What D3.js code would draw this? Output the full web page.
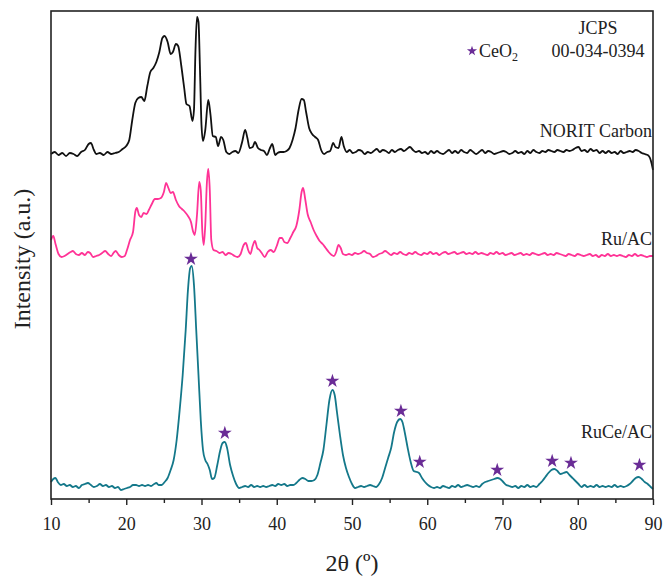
<!DOCTYPE html>
<html>
<head>
<meta charset="utf-8">
<script src="https://cdn.jsdelivr.net/npm/d3@7/dist/d3.min.js"></script>
<style>
    body { margin: 0; background: #fff; }
</style>
</head>
<body>
<svg width="663" height="576"></svg>
<script>
// 2theta (deg), intensity (a.u., curves already stacked)
var noritCarbon = [
    [10.0,346],[10.5,348],[11.0,345],[11.5,347],[12.0,344],[12.5,347],[13.0,346],[13.5,344],[14.0,348],[14.5,350],
    [15.0,356],[15.3,357],[15.7,350],[16.0,346],[16.5,347],[17.0,345],[17.5,348],[18.0,346],[18.5,347],[19.0,348],
    [19.5,351],[20.0,354],[20.4,360],[20.8,380],[21.2,397],[21.6,402],[22.0,403],[22.4,399],[22.8,414],[23.2,428],
    [23.6,432],[24.0,438],[24.4,448],[24.8,462],[25.1,464],[25.5,458],[25.9,446],[26.2,448],[26.6,456],[26.9,454],
    [27.3,435],[27.7,412],[28.0,396],[28.4,394],[28.8,379],[29.0,390],[29.2,450],[29.4,483],[29.6,478],[29.8,430],
    [30.0,375],[30.2,359],[30.5,370],[30.9,400],[31.2,385],[31.5,364],[31.9,363],[32.2,354],[32.6,363],[32.9,360],
    [33.3,348],[33.7,346],[34.1,348],[34.5,349],[34.9,347],[35.4,358],[35.8,370],[36.1,362],[36.4,352],[36.8,353],
    [37.1,358],[37.5,352],[37.9,350],[38.3,349],[38.7,345],[39.1,352],[39.4,356],[39.8,345],[40.1,347],[40.5,348],
    [40.9,348],[41.3,349],[41.7,352],[42.1,360],[42.5,372],[42.9,390],[43.3,401],[43.6,400],[43.9,388],[44.3,372],
    [44.7,366],[45.1,363],[45.5,360],[45.9,350],[46.3,346],[46.7,348],[47.1,349],[47.5,357],[47.8,353],[48.2,352],
    [48.6,363],[48.9,354],[49.3,348],[49.7,350],[50.1,347],[50.5,348],[50.9,350],[51.3,349],[51.7,346],[52.1,348],
    [52.5,347],[52.9,349],[53.3,351],[53.7,348],[54.1,350],[54.5,349],[54.9,347],[55.3,350],[55.7,348],[56.1,350],
    [56.5,351],[56.9,349],[57.3,351],[57.7,353],[58.1,350],[58.5,348],[58.9,349],[59.3,347],[59.7,348],[60.1,346],
    [60.5,349],[60.9,347],[61.3,349],[61.7,347],[62.1,346],[62.5,348],[62.9,350],[63.3,347],[63.7,349],[64.1,347],
    [64.5,350],[64.9,348],[65.3,347],[65.7,350],[66.1,348],[66.5,346],[66.9,348],[67.3,350],[67.7,347],[68.1,349],
    [68.5,348],[68.9,346],[69.3,347],[69.7,348],[70.1,349],[70.5,348],[70.9,346],[71.3,347],[71.7,349],[72.1,347],
    [72.5,348],[72.9,346],[73.3,349],[73.7,347],[74.1,350],[74.5,348],[74.9,347],[75.3,349],[75.7,348],[76.1,350],
    [76.5,349],[76.9,348],[77.3,350],[77.7,349],[78.1,348],[78.5,350],[78.9,349],[79.3,350],[79.7,352],[80.1,353],
    [80.5,349],[80.9,350],[81.3,348],[81.7,351],[82.1,349],[82.5,350],[82.9,347],[83.3,349],[83.7,347],[84.1,349],
    [84.5,347],[84.9,348],[85.3,346],[85.7,349],[86.1,347],[86.5,348],[86.9,349],[87.3,348],[87.7,350],[88.1,349],
    [88.5,347],[88.9,346],[89.3,345],[89.6,342],[89.8,337],[90.0,330]
];

var ruAC = [
    [10.0,260],[10.3,264],[10.6,256],[11.0,246],[11.4,243],[11.8,244],[12.2,246],[12.6,248],[12.9,249],[13.3,246],
    [13.7,245],[14.1,247],[14.5,245],[14.9,248],[15.2,247],[15.6,243],[16.0,244],[16.4,245],[16.8,247],[17.2,249],
    [17.6,246],[18.0,244],[18.3,247],[18.6,249],[19.0,245],[19.4,243],[19.8,244],[20.1,250],[20.5,260],[20.9,268],
    [21.2,288],[21.4,292],[21.7,285],[22.0,283],[22.3,287],[22.7,286],[23.0,290],[23.4,296],[23.8,301],[24.2,301],
    [24.6,302],[25.0,308],[25.3,317],[25.6,312],[25.9,307],[26.2,308],[26.6,300],[27.0,294],[27.4,291],[27.8,288],
    [28.2,284],[28.6,278],[28.9,268],[29.1,265],[29.4,285],[29.7,318],[29.9,310],[30.1,270],[30.3,255],[30.5,275],
    [30.7,315],[30.9,331],[31.1,310],[31.3,260],[31.6,250],[32.0,249],[32.4,247],[32.8,248],[33.2,245],[33.6,247],
    [34.0,246],[34.4,244],[34.8,243],[35.2,246],[35.6,255],[35.9,257],[36.2,250],[36.5,246],[36.8,254],[37.1,259],
    [37.4,252],[37.7,250],[38.0,247],[38.4,243],[38.8,248],[39.2,250],[39.6,248],[40.0,254],[40.4,262],[40.7,262],
    [41.0,258],[41.4,257],[41.8,262],[42.2,268],[42.6,274],[43.0,290],[43.3,308],[43.5,312],[43.8,300],[44.1,286],
    [44.5,278],[44.9,270],[45.3,264],[45.7,259],[46.1,256],[46.5,252],[46.9,248],[47.3,245],[47.6,244],[47.9,248],
    [48.2,255],[48.5,252],[48.8,246],[49.2,245],[49.6,246],[50.0,245],[50.4,247],[50.8,246],[51.2,247],[51.6,249],
    [52.0,247],[52.4,246],[52.8,243],[53.2,244],[53.6,246],[54.0,247],[54.4,249],[54.8,247],[55.2,245],[55.6,247],
    [56.0,246],[56.4,248],[56.8,246],[57.2,245],[57.6,247],[58.0,246],[58.4,248],[58.8,246],[59.2,245],[59.6,247],
    [60.0,246],[60.4,248],[60.8,246],[61.2,247],[61.6,245],[62.0,247],[62.4,248],[62.8,246],[63.2,247],[63.6,248],
    [64.0,246],[64.4,247],[64.8,248],[65.2,246],[65.6,247],[66.0,246],[66.4,248],[66.8,246],[67.2,247],[67.6,246],
    [68.0,245],[68.4,247],[68.8,246],[69.2,248],[69.6,246],[70.0,247],[70.4,245],[70.8,246],[71.2,247],[71.6,245],
    [72.0,246],[72.4,247],[72.8,245],[73.2,246],[73.6,245],[74.0,247],[74.4,246],[74.8,245],[75.2,246],[75.6,247],
    [76.0,245],[76.4,246],[76.8,245],[77.2,247],[77.6,246],[78.0,245],[78.4,244],[78.8,246],[79.2,245],[79.6,244],
    [80.0,246],[80.4,245],[80.8,244],[81.2,245],[81.6,246],[82.0,244],[82.4,245],[82.8,243],[83.2,245],[83.6,244],
    [84.0,246],[84.4,244],[84.8,245],[85.2,244],[85.6,245],[86.0,244],[86.4,243],[86.8,245],[87.2,244],[87.6,246],
    [88.0,244],[88.4,245],[88.8,244],[89.2,243],[89.6,244],[90.0,244]
];

var ruCeAC = [
    [10.0,18],[10.3,21],[10.6,22],[10.9,18],[11.3,15],[11.7,16],[12.1,14],[12.5,15],[12.9,13],[13.3,14],
    [13.7,12],[14.1,15],[14.5,16],[14.9,17],[15.3,15],[15.7,13],[16.1,14],[16.5,16],[16.9,14],[17.3,15],
    [17.7,13],[18.1,14],[18.5,12],[18.9,13],[19.3,10],[19.7,11],[20.1,12],[20.5,13],[20.9,15],[21.3,15],
    [21.7,14],[22.1,15],[22.5,14],[22.9,15],[23.3,14],[23.7,16],[24.0,17],[24.3,15],[24.7,15],[25.1,18],
    [25.5,22],[25.9,30],[26.3,40],[26.7,60],[27.1,90],[27.5,125],[27.9,170],[28.2,210],[28.5,232],[28.7,234],
    [29.0,215],[29.3,170],[29.6,125],[29.9,80],[30.2,50],[30.5,40],[30.8,36],[31.1,30],[31.4,21],[31.7,22],
    [32.1,35],[32.5,50],[32.8,57],[33.1,58],[33.4,52],[33.8,35],[34.2,24],[34.6,16],[35.0,12],[35.4,13],
    [35.8,14],[36.2,13],[36.6,15],[37.0,13],[37.4,14],[37.8,13],[38.2,14],[38.6,13],[39.0,14],[39.4,15],
    [39.8,14],[40.2,16],[40.6,15],[41.0,16],[41.4,14],[41.8,15],[42.2,15],[42.6,17],[43.0,20],[43.4,22],
    [43.8,21],[44.2,19],[44.6,19],[45.0,20],[45.4,25],[45.8,37],[46.2,50],[46.6,75],[47.0,100],[47.4,110],
    [47.7,105],[48.0,88],[48.4,65],[48.8,45],[49.2,32],[49.6,23],[50.0,16],[50.4,12],[50.8,13],[51.2,14],
    [51.6,13],[52.0,14],[52.4,15],[52.8,14],[53.2,13],[53.6,16],[54.0,22],[54.4,32],[54.8,42],[55.2,52],
    [55.6,68],[56.0,78],[56.4,81],[56.7,78],[57.0,68],[57.4,52],[57.8,38],[58.2,29],[58.6,28],[58.9,27],
    [59.3,22],[59.7,18],[60.1,15],[60.5,13],[60.9,12],[61.3,13],[61.7,12],[62.1,14],[62.5,13],[62.9,12],
    [63.3,14],[63.7,13],[64.1,15],[64.5,13],[64.9,14],[65.3,15],[65.7,14],[66.1,13],[66.5,14],[66.9,13],
    [67.3,16],[67.7,18],[68.1,19],[68.5,20],[68.9,21],[69.3,22],[69.7,21],[70.1,18],[70.5,15],[70.9,14],
    [71.3,13],[71.7,14],[72.1,12],[72.5,14],[72.9,13],[73.3,15],[73.7,13],[74.1,14],[74.5,13],[74.9,16],
    [75.3,19],[75.7,23],[76.1,27],[76.5,30],[76.9,31],[77.3,29],[77.7,26],[78.1,27],[78.5,28],[78.9,25],
    [79.3,22],[79.7,19],[80.1,16],[80.5,13],[80.9,15],[81.3,13],[81.7,14],[82.1,13],[82.5,15],[82.9,13],
    [83.3,14],[83.7,13],[84.1,14],[84.5,13],[84.9,15],[85.3,13],[85.7,14],[86.1,13],[86.5,14],[86.9,16],
    [87.3,19],[87.7,22],[88.1,23],[88.5,21],[88.9,18],[89.3,16],[89.7,13],[90.0,11]
];

// CeO2 reflections marked with stars
var ceriaStars = [[28.6,241],[33.1,67],[47.4,119],[56.5,89],[59.0,38],[69.3,30],[76.6,39],[79.1,37],[88.2,35]];

var xTicks = [10, 20, 30, 40, 50, 60, 70, 80, 90];
var xMinorTicks = [15, 25, 35, 45, 55, 65, 75, 85];

var seriesList = [
    { name: 'NORIT Carbon', data: noritCarbon, color: '#111111', labelY: 137 },
    { name: 'Ru/AC', data: ruAC, color: '#ff3396', labelY: 245 },
    { name: 'RuCe/AC', data: ruCeAC, color: '#14788a', labelY: 438 }
];

var serif = 'Liberation Serif, Times New Roman, Times, serif';

var svg = d3.select('svg'),
    margin = { left: 51, right: 10, top: 11, bottom: 77 },
    width = 663 - margin.left - margin.right,
    height = 576 - margin.top - margin.bottom;

var x = d3.scaleLinear().domain([10, 90]).range([margin.left, margin.left + width]);
var y = d3.scaleLinear().domain([1, 489]).range([margin.top + height, margin.top]);

var line = d3.line()
    .x(function (d) { return x(d[0]); })
    .y(function (d) { return y(d[1]); })
    .curve(d3.curveMonotoneX);

function addText(px, py, size, anchor, str) {
    return svg.append('text')
        .attr('x', px)
        .attr('y', py)
        .attr('text-anchor', anchor)
        .attr('font-size', size)
        .attr('font-family', serif)
        .attr('fill', '#222')
        .text(str);
}

seriesList.forEach(function (s) {
    svg.append('path')
        .datum(s.data)
        .attr('d', line)
        .attr('fill', 'none')
        .attr('stroke', s.color)
        .attr('stroke-width', 1.8)
        .attr('stroke-linejoin', 'round');

    addText(margin.left + width - 1, s.labelY, 18, 'end', s.name);
});

var star = d3.symbol().type(d3.symbolStar).size(60);

svg.selectAll('.ceria')
    .data(ceriaStars)
    .enter().append('path')
    .attr('class', 'ceria')
    .attr('d', star)
    .attr('transform', function (d) { return 'translate(' + x(d[0]) + ',' + y(d[1]) + ')'; })
    .attr('fill', '#6a2c96');

// x axis with minor ticks
svg.append('g')
    .attr('transform', 'translate(0,' + (margin.top + height) + ')')
    .call(d3.axisBottom(x).tickValues(xMinorTicks).tickSize(4).tickFormat(''))
    .call(function (g) { g.select('.domain').remove(); })
    .selectAll('line').attr('stroke', '#222').attr('stroke-width', 1.4);

var xAxis = svg.append('g')
    .attr('transform', 'translate(0,' + (margin.top + height) + ')')
    .call(d3.axisBottom(x).tickValues(xTicks).tickSize(6).tickPadding(12).tickFormat(d3.format('d')));

xAxis.attr('font-family', serif);
xAxis.select('.domain').remove();
xAxis.selectAll('line').attr('stroke', '#222').attr('stroke-width', 1.4);
xAxis.selectAll('text')
    .attr('font-size', 18)
    .attr('fill', '#222');

// plot frame
svg.append('rect')
    .attr('x', margin.left)
    .attr('y', margin.top)
    .attr('width', width)
    .attr('height', height)
    .attr('fill', 'none')
    .attr('stroke', '#222')
    .attr('stroke-width', 1.6);

addText(x(50), 571, 24, 'middle', '2θ (º)');

addText(0, 0, 24, 'middle', 'Intensity (a.u.)')
    .attr('transform', 'translate(30,259) rotate(-90)');

// legend
addText(598, 34, 18, 'middle', 'JCPS');
addText(598, 57, 18, 'middle', '00-034-0394');

svg.append('path')
    .attr('d', d3.symbol().type(d3.symbolStar).size(32))
    .attr('transform', 'translate(472,51)')
    .attr('fill', '#6a2c96');

var ceo2 = addText(479, 57, 18, 'start', 'CeO');
ceo2.append('tspan').attr('font-size', 12).attr('dy', 4).text('2');
</script>
</body>
</html>
